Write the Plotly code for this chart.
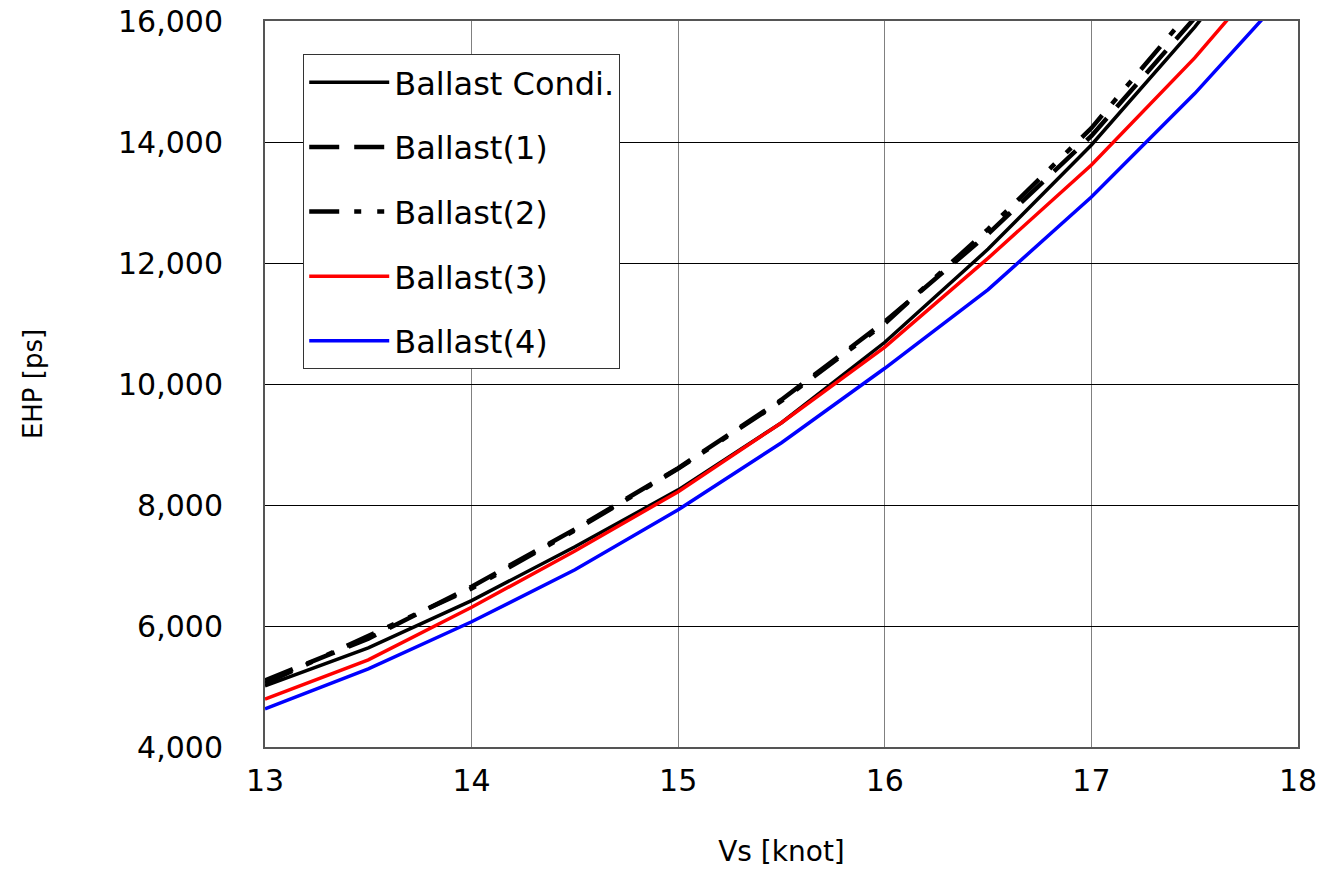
import plotly.graph_objects as go

speed = [13.0, 13.5, 14.0, 14.5, 15.0, 15.5, 16.0, 16.5, 17.0, 17.5, 18.0]

ballast_condi = [5010, 5640, 6420, 7310, 8250, 9360, 10690, 12230, 13950, 15900, 18050]
ballast_1 = [5100, 5790, 6650, 7600, 8610, 9740, 11030, 12480, 14100, 16050, 18250]
ballast_2 = [5050, 5830, 6620, 7580, 8600, 9720, 11000, 12560, 14230, 16250, 18400]
ballast_3 = [4790, 5440, 6310, 7240, 8220, 9360, 10610, 12080, 13620, 15390, 17380]
ballast_4 = [4630, 5290, 6070, 6930, 7920, 9030, 10260, 11560, 13090, 14800, 16680]

series = [
    ("Ballast Condi.", ballast_condi, "black", "solid", 3.5),
    ("Ballast(1)", ballast_1, "black", "30px,15px", 4.5),
    ("Ballast(2)", ballast_2, "black", "30px,15px,7px,16px,7px,15px", 4.5),
    ("Ballast(3)", ballast_3, "#FF0000", "solid", 3.5),
    ("Ballast(4)", ballast_4, "#0000FF", "solid", 3.5),
]

fig = go.Figure()
for i, (name, vals, color, dash, w) in enumerate(series):
    fig.add_trace(go.Scatter(
        x=speed, y=vals, mode="lines", name=name, legendgroup=f"g{i}",
        line=dict(color=color, dash=dash, width=w),
    ))

font_family = "DejaVu Sans"
fig.update_layout(
    width=1321, height=881,
    margin=dict(l=265, r=23, t=21, b=134),
    paper_bgcolor="white", plot_bgcolor="white",
    font=dict(family=font_family, color="black", size=24),
    showlegend=True,
    legend=dict(
        x=0.037, y=0.9545, xanchor="left", yanchor="top",
        bgcolor="white", bordercolor="#333333", borderwidth=1,
        font=dict(size=32, family=font_family),
        tracegroupgap=20, itemwidth=80,
    ),
    xaxis=dict(
        range=[13, 18], dtick=1, tick0=13,
        showgrid=True, gridcolor="#808080", gridwidth=1,
        showline=True, linecolor="#555555", linewidth=2, mirror=True,
        ticks="", ticklabelstandoff=6,
        tickfont=dict(size=30, family=font_family),
        title=dict(text="Vs [knot]", font=dict(size=28, family=font_family), standoff=44),
        zeroline=False, fixedrange=True,
    ),
    yaxis=dict(
        range=[4000, 16000], dtick=2000, tick0=4000, tickformat=",d",
        showgrid=True, gridcolor="#000000", gridwidth=1,
        showline=True, linecolor="#555555", linewidth=2, mirror=True,
        ticks="", ticklabelstandoff=34,
        tickfont=dict(size=30, family=font_family),
        title=dict(text="EHP [ps]", font=dict(size=26, family=font_family), standoff=68),
        zeroline=False, fixedrange=True,
    ),
)
fig.update_xaxes(automargin=False)
fig.update_yaxes(automargin=False)

fig.write_html("out.html")
